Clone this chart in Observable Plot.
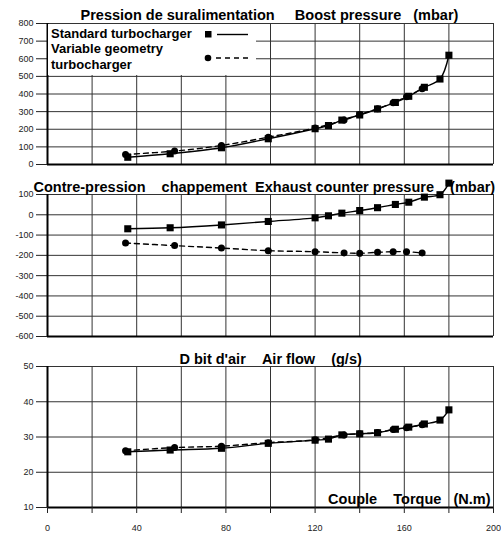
<!DOCTYPE html>
<html>
<head>
<meta charset="utf-8">
<script src="https://cdn.jsdelivr.net/npm/d3@7"></script>
<script src="https://cdn.jsdelivr.net/npm/@observablehq/plot@0.6"></script>
<style>
  html, body { margin: 0; padding: 0; background: white; }
  #wrap { position: relative; width: 501px; height: 535px; font-family: "Liberation Sans", Arial, sans-serif; }
  .panel { position: absolute; left: 0; }
  svg { overflow: visible; }
  #legend { position: absolute; left: 0; top: 0; pointer-events: none; }
</style>
</head>
<body>
<div id="wrap"></div>
<script>
// ---- data ----
const torqueStd = [36, 55, 78, 99, 120, 126, 132, 140, 148, 156, 162, 169, 176, 180];
const torqueVG  = [35, 57, 78, 99, 120, 133, 140, 148, 155, 161, 168];

const boostStd = [41, 61, 95, 146, 203, 221, 252, 281, 315, 352, 387, 438, 485, 620];
const boostVG  = [57, 76, 108, 155, 207, 252, 283, 316, 350, 384, 430];

const exhaustStd = [-69, -64, -50, -33, -15, -5, 8, 21, 35, 51, 62, 87, 99, 156];
const exhaustVG  = [-139, -152, -164, -177, -182, -188, -190, -185, -182, -182, -188];

const airStd = [25.8, 26.3, 26.8, 28.2, 29.1, 29.4, 30.6, 30.9, 31.2, 32.2, 32.8, 33.7, 34.8, 37.7];
const airVG  = [26.1, 27.0, 27.4, 28.4, 29.2, 30.6, 30.9, 31.3, 32.1, 32.6, 33.5];

const xTicks = [0, 20, 40, 60, 80, 100, 120, 140, 160, 180, 200];
const boostTicks = [0, 100, 200, 300, 400, 500, 600, 700, 800];
const exhaustTicks = [-600, -500, -400, -300, -200, -100, 0, 100];
const airTicks = [10, 20, 30, 40, 50];

const NB = "\u00a0";
const title1 = "Pression de suralimentation" + NB.repeat(5) + "Boost pressure" + NB.repeat(3) + "(mbar)";
const title2 = "Contre-pression" + NB.repeat(4) + "chappement" + NB.repeat(2) + "Exhaust counter pressure" + NB.repeat(4) + "(mbar)";
const title3 = "D" + NB + "bit d'air" + NB.repeat(4) + "Air flow" + NB.repeat(4) + "(g/s)";
const xTitle = "Couple" + NB.repeat(4) + "Torque" + NB.repeat(3) + "(N.m)";
const legendStd = "Standard turbocharger";
const legendVG = ["Variable geometry", "turbocharger"];

const FONT = "Liberation Sans, Arial, sans-serif";
const TITLE_SIZE = 14.5;

function panel({top, height, marginTop, marginBottom, yDomain, yTicks, stdY, vgY, title, titleDx, titleDy, bottomAxis}) {
  const marks = [
    Plot.ruleX(xTicks, {stroke: "#333", strokeWidth: 1}),
    Plot.ruleY(yTicks, {stroke: "#333", strokeWidth: 1}),
    Plot.axisY({ticks: yTicks, tickSize: 11, tickPadding: 3, tickFormat: d => String(d), label: null, fontSize: 9}),
    Plot.ruleX([0], {stroke: "black", strokeWidth: 2}),
    Plot.ruleY([yDomain[0]], {stroke: "black", strokeWidth: 2}),
    Plot.line(vgY, {x: torqueVG.slice(0, vgY.length), y: vgY, curve: "catmull-rom", stroke: "black", strokeWidth: 1.4, strokeDasharray: "5,4"}),
    Plot.line(stdY, {x: torqueStd, y: stdY, curve: "catmull-rom", stroke: "black", strokeWidth: 1.4}),
    Plot.dot(vgY, {x: torqueVG.slice(0, vgY.length), y: vgY, symbol: "circle", r: 3.5, fill: "black", stroke: "none"}),
    Plot.dot(stdY, {x: torqueStd, y: stdY, symbol: "square", r: 4, fill: "black", stroke: "none"}),
    Plot.text([title], {frameAnchor: "top-left", textAnchor: "start", lineAnchor: "middle", dx: titleDx, dy: titleDy, fontSize: TITLE_SIZE, fontWeight: "bold", fill: "black"})
  ];
  if (bottomAxis) {
    marks.push(Plot.axisX({ticks: xTicks, tickSize: 6, tickPadding: 11, tickFormat: d => d % 40 === 0 ? String(d) : "", label: null, fontSize: 9}));
    marks.push(Plot.text([xTitle], {frameAnchor: "bottom-right", textAnchor: "end", lineAnchor: "middle", dx: -3, dy: -8, fontSize: TITLE_SIZE, fontWeight: "bold", fill: "black"}));
  }
  const p = Plot.plot({
    width: 501, height, marginLeft: 47, marginRight: 8, marginTop, marginBottom,
    x: {domain: [0, 200], axis: bottomAxis ? undefined : null},
    y: {domain: yDomain},
    style: {fontFamily: FONT, fontSize: "9px", color: "#222", background: "transparent", overflow: "visible"},
    marks
  });
  const d = document.createElement("div");
  d.className = "panel";
  d.style.top = top + "px";
  d.appendChild(p);
  return d;
}

const wrap = document.getElementById("wrap");
wrap.appendChild(panel({top: 0, height: 170, marginTop: 23, marginBottom: 6, yDomain: [0, 800], yTicks: boostTicks,
  stdY: boostStd, vgY: boostVG, title: title1, titleDx: 33, titleDy: -8.5, bottomAxis: false}));
wrap.appendChild(panel({top: 170, height: 170, marginTop: 24, marginBottom: 4, yDomain: [-600, 100], yTicks: exhaustTicks,
  stdY: exhaustStd, vgY: exhaustVG, title: title2, titleDx: -14, titleDy: -7, bottomAxis: false}));
wrap.appendChild(panel({top: 340, height: 195, marginTop: 26, marginBottom: 28, yDomain: [10, 50], yTicks: airTicks,
  stdY: airStd, vgY: airVG, title: title3, titleDx: 132, titleDy: -7.5, bottomAxis: true}));

// legend box overlay (top-left of the first panel)
const lg = d3.create("svg").attr("id", "legend").attr("width", 501).attr("height", 90)
  .style("font-family", FONT);
lg.append("rect").attr("x", 48).attr("y", 24).attr("width", 208).attr("height", 51).attr("fill", "white");
lg.append("text").attr("x", 51).attr("y", 38).attr("font-size", 13).attr("font-weight", "bold").text(legendStd);
lg.append("text").attr("x", 51).attr("y", 53).attr("font-size", 13).attr("font-weight", "bold").text(legendVG[0]);
lg.append("text").attr("x", 51).attr("y", 69).attr("font-size", 13).attr("font-weight", "bold").text(legendVG[1]);
lg.append("rect").attr("x", 205).attr("y", 31).attr("width", 6.5).attr("height", 6.5).attr("fill", "black");
lg.append("line").attr("x1", 217).attr("x2", 248).attr("y1", 34.5).attr("y2", 34.5).attr("stroke", "black").attr("stroke-width", 1.4);
lg.append("circle").attr("cx", 208).attr("cy", 58).attr("r", 3.3).attr("fill", "black");
lg.append("line").attr("x1", 216).attr("x2", 248).attr("y1", 58).attr("y2", 58).attr("stroke", "black").attr("stroke-width", 1.4).attr("stroke-dasharray", "5,4");
wrap.appendChild(lg.node());
</script>
</body>
</html>
